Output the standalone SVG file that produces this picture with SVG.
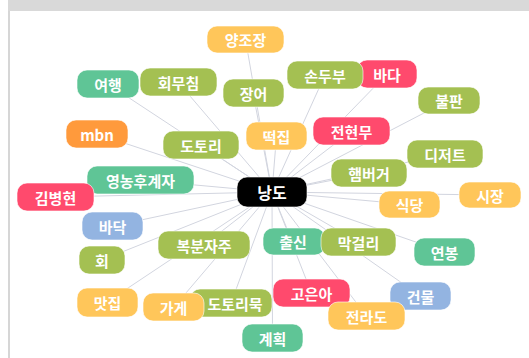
<svg xmlns="http://www.w3.org/2000/svg" width="529" height="358" viewBox="0 0 529 358">
<style>
.n rect{stroke:#ffffff;stroke-opacity:0.6;stroke-width:1}
.n text{font-family:"Noto Sans CJK KR","Noto Sans",sans-serif;font-weight:bold;font-size:15px;fill:#fff;text-anchor:middle;dominant-baseline:central}
.g rect{fill:#a4c052}.t rect{fill:#5fc596}.y rect{fill:#ffc65a}.r rect{fill:#ff4a6d}.o rect{fill:#ff9a3c}.b rect{fill:#93b4e1}.k rect{fill:#000}
#edges line{stroke:#d2d5df;stroke-width:1}
</style>
<rect x="0" y="0" width="529" height="358" fill="#fff"/>
<rect x="8" y="0" width="521" height="11" fill="#d9d9d9"/>
<rect x="8" y="11" width="2" height="347" fill="#d6d6d6"/>
<g id="edges">
<line x1="272" y1="192" x2="245.5" y2="39.5"/>
<line x1="272" y1="192" x2="108" y2="84"/>
<line x1="272" y1="192" x2="178" y2="82"/>
<line x1="272" y1="192" x2="253" y2="93"/>
<line x1="272" y1="192" x2="97" y2="134"/>
<line x1="272" y1="192" x2="201" y2="145"/>
<line x1="272" y1="192" x2="276.5" y2="136"/>
<line x1="272" y1="192" x2="140.5" y2="180"/>
<line x1="272" y1="192" x2="325" y2="75"/>
<line x1="272" y1="192" x2="387" y2="74"/>
<line x1="272" y1="192" x2="449" y2="100"/>
<line x1="272" y1="192" x2="351.5" y2="131"/>
<line x1="272" y1="192" x2="445" y2="154"/>
<line x1="272" y1="192" x2="369" y2="173"/>
<line x1="272" y1="192" x2="55.5" y2="197"/>
<line x1="272" y1="192" x2="113" y2="226"/>
<line x1="272" y1="192" x2="204" y2="245"/>
<line x1="272" y1="192" x2="102" y2="260"/>
<line x1="272" y1="192" x2="107" y2="302"/>
<line x1="272" y1="192" x2="174" y2="307"/>
<line x1="272" y1="192" x2="231" y2="303"/>
<line x1="272" y1="192" x2="272.5" y2="338"/>
<line x1="272" y1="192" x2="292" y2="241"/>
<line x1="272" y1="192" x2="358.5" y2="242"/>
<line x1="272" y1="192" x2="409.5" y2="204.5"/>
<line x1="272" y1="192" x2="490" y2="195"/>
<line x1="272" y1="192" x2="444.5" y2="252"/>
<line x1="272" y1="192" x2="311.5" y2="293"/>
<line x1="272" y1="192" x2="420.5" y2="296"/>
<line x1="272" y1="192" x2="366.5" y2="316"/>
</g>
<g id="n-yangjojang" class="n y"><rect x="207" y="26" width="77" height="27" rx="10"/><text x="245.5" y="39.5">양조장</text></g>
<g id="n-yeohaeng" class="n t"><rect x="77" y="70" width="62" height="28" rx="10"/><text x="108" y="84">여행</text></g>
<g id="n-huemuchim" class="n g"><rect x="140" y="68" width="77" height="28" rx="10"/><text x="178.5" y="82">회무침</text></g>
<g id="n-jangeo" class="n g"><rect x="223" y="79" width="61" height="28" rx="10"/><text x="253.5" y="93">장어</text></g>
<g id="n-mbn" class="n o"><rect x="66" y="120" width="62" height="28" rx="10"/><text x="97" y="134">mbn</text></g>
<g id="n-dotori" class="n g"><rect x="163" y="131" width="76" height="28" rx="10"/><text x="201" y="145">도토리</text></g>
<g id="n-tteokjip" class="n y"><rect x="246" y="122" width="61" height="28" rx="10"/><text x="276.5" y="136">떡집</text></g>
<g id="n-yeongnong" class="n t"><rect x="87" y="166" width="107" height="28" rx="10"/><text x="140.5" y="180">영농후계자</text></g>
<g id="n-bada" class="n r"><rect x="357" y="60" width="60" height="28" rx="10"/><text x="387" y="74">바다</text></g>
<g id="n-sondubu" class="n g"><rect x="287" y="61" width="76" height="28" rx="10"/><text x="325" y="75">손두부</text></g>
<g id="n-bulpan" class="n g"><rect x="418" y="87" width="62" height="27" rx="10"/><text x="449" y="100.5">불판</text></g>
<g id="n-jeonhyeonmu" class="n r"><rect x="313" y="117" width="77" height="28" rx="10"/><text x="351.5" y="131">전현무</text></g>
<g id="n-dessert" class="n g"><rect x="407" y="140" width="76" height="28" rx="10"/><text x="445" y="154">디저트</text></g>
<g id="n-hamburger" class="n g"><rect x="331" y="159" width="76" height="28" rx="10"/><text x="369" y="173">햄버거</text></g>
<g id="n-gimbyeonghyeon" class="n r"><rect x="17" y="183" width="77" height="28" rx="10"/><text x="55.5" y="197">김병현</text></g>
<g id="n-badak" class="n b"><rect x="82" y="212" width="61" height="28" rx="10"/><text x="112.5" y="226">바닥</text></g>
<g id="n-bokbunja" class="n g"><rect x="158" y="231" width="92" height="28" rx="10"/><text x="204" y="245">복분자주</text></g>
<g id="n-hoe" class="n g"><rect x="79" y="246" width="46" height="28" rx="10"/><text x="102" y="260">회</text></g>
<g id="n-matjip" class="n y"><rect x="77" y="288" width="61" height="29" rx="10"/><text x="107.5" y="302.5">맛집</text></g>
<g id="n-dotorimuk" class="n g"><rect x="190" y="289" width="82" height="28" rx="10"/><text x="235" y="303">도토리묵</text></g>
<g id="n-gage" class="n y"><rect x="143" y="293" width="61" height="28" rx="10"/><text x="173.5" y="307">가게</text></g>
<g id="n-gyehoek" class="n t"><rect x="242" y="324" width="61" height="28" rx="10"/><text x="272.5" y="338">계획</text></g>
<g id="n-chulsin" class="n t"><rect x="263" y="228" width="62" height="27" rx="10"/><text x="293" y="241.5">출신</text></g>
<g id="n-makgeolli" class="n g"><rect x="321" y="228" width="75" height="28" rx="10"/><text x="358.5" y="242">막걸리</text></g>
<g id="n-sikdang" class="n y"><rect x="379" y="191" width="61" height="27" rx="10"/><text x="409.5" y="204.5">식당</text></g>
<g id="n-sijang" class="n y"><rect x="459" y="182" width="62" height="26" rx="10"/><text x="490" y="195">시장</text></g>
<g id="n-yeonbong" class="n t"><rect x="414" y="238" width="61" height="28" rx="10"/><text x="444.5" y="252">연봉</text></g>
<g id="n-goeuna" class="n r"><rect x="273" y="279" width="77" height="28" rx="10"/><text x="311.5" y="293">고은아</text></g>
<g id="n-geonmul" class="n b"><rect x="390" y="282" width="61" height="28" rx="10"/><text x="420.5" y="296">건물</text></g>
<g id="n-jeollado" class="n y"><rect x="328" y="302" width="77" height="28" rx="10"/><text x="366.5" y="316">전라도</text></g>
<g id="n-nangdo" class="n k"><rect x="237" y="177" width="70" height="30" rx="10"/><text x="272" y="192" style="font-size:16px">낭도</text></g>
</svg>
